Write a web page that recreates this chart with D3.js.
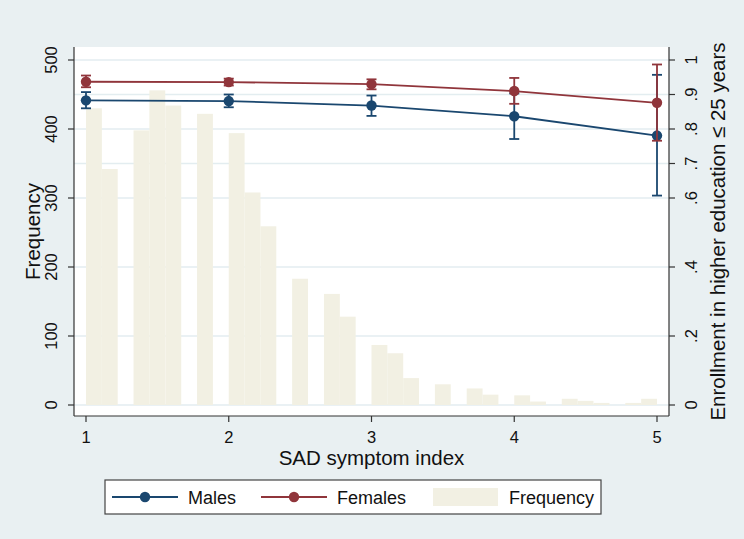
<!DOCTYPE html>
<html>
<head>
<meta charset="utf-8">
<script src="https://cdn.jsdelivr.net/npm/d3@7"></script>
<style>
  html, body { margin: 0; padding: 0; background: #e9f0f2; }
  svg { display: block; font-family: "Liberation Sans", Arial, sans-serif; }
</style>
</head>
<body>
<svg id="chart" width="744" height="539"></svg>
<script>
// ---- data ----
const sadPoints = [1, 2, 3, 4, 5];
const malesMean = [0.883, 0.881, 0.868, 0.837, 0.781];
const malesLow  = [0.860, 0.863, 0.838, 0.771, 0.607];
const malesHigh = [0.907, 0.900, 0.897, 0.903, 0.957];
const femalesMean = [0.937, 0.936, 0.930, 0.910, 0.876];
const femalesLow  = [0.921, 0.926, 0.915, 0.873, 0.766];
const femalesHigh = [0.955, 0.946, 0.944, 0.948, 0.987];

// histogram bins (left edge, bin width 1/9) and frequencies
const binStart = [1.000, 1.111, 1.333, 1.444, 1.556, 1.778, 2.000, 2.111, 2.222, 2.444,
                  2.667, 2.778, 3.000, 3.111, 3.222, 3.444, 3.667, 3.778, 4.000, 4.111,
                  4.333, 4.444, 4.556, 4.778, 4.889];
const binFreq  = [430, 342, 398, 456, 434, 422, 394, 308, 259, 183,
                  161, 128, 87, 75, 39, 30, 24, 15, 14, 5,
                  9, 6, 3, 3, 9];
const binWidth = 1 / 9;

const xTicks = [1, 2, 3, 4, 5];
const leftTicks = [0, 100, 200, 300, 400, 500];
const rightTicks = [0, 0.2, 0.4, 0.6, 0.7, 0.8, 0.9, 1];
const rightTickLabels = ["0", ".2", ".4", ".6", ".7", ".8", ".9", "1"];

const legendLabels = ["Males", "Females", "Frequency"];

// ---- styles ----
const maleColor = "#1a476f";
const femaleColor = "#90353b";
const histColor = "#f2f0e3";
const gridColor = "#e3edf0";
const axisColor = "#333333";
const textColor = "#111111";

const svg = d3.select("#chart");
const W = 744, H = 539;
svg.append("rect").attr("width", W).attr("height", H).attr("fill", "#e9f0f2");

const plot = { left: 74, right: 669, top: 47, bottom: 416 };

const x = d3.scaleLinear().domain([1, 5]).range([86, 657]);
const yL = d3.scaleLinear().domain([0, 500]).range([405, 60]);
const yR = d3.scaleLinear().domain([0, 1]).range([405, 60]);

// plot region
svg.append("rect")
  .attr("x", plot.left).attr("y", plot.top)
  .attr("width", plot.right - plot.left).attr("height", plot.bottom - plot.top)
  .attr("fill", "#ffffff");

// gridlines (from right axis ticks)
svg.append("g").selectAll("line").data(rightTicks).join("line")
  .attr("x1", plot.left).attr("x2", plot.right)
  .attr("y1", d => yR(d)).attr("y2", d => yR(d))
  .attr("stroke", gridColor).attr("stroke-width", 1.3);

// histogram
svg.append("g").selectAll("rect").data(binStart).join("rect")
  .attr("x", d => x(d))
  .attr("width", d => x(d + binWidth) - x(d))
  .attr("y", (d, i) => yL(binFreq[i]))
  .attr("height", (d, i) => yL(0) - yL(binFreq[i]))
  .attr("fill", histColor);

// series
function drawSeries(mean, low, high, color) {
  const g = svg.append("g");
  const line = d3.line().x((d, i) => x(sadPoints[i])).y(d => yR(d));
  g.append("path").datum(mean).attr("d", line)
    .attr("fill", "none").attr("stroke", color).attr("stroke-width", 1.8);
  const cap = 5;
  sadPoints.forEach((p, i) => {
    const cx = x(p);
    g.append("line").attr("x1", cx).attr("x2", cx)
      .attr("y1", yR(low[i])).attr("y2", yR(high[i]))
      .attr("stroke", color).attr("stroke-width", 1.8);
    [low[i], high[i]].forEach(v => {
      g.append("line").attr("x1", cx - cap).attr("x2", cx + cap)
        .attr("y1", yR(v)).attr("y2", yR(v))
        .attr("stroke", color).attr("stroke-width", 1.8);
    });
  });
  g.selectAll("circle").data(mean).join("circle")
    .attr("cx", (d, i) => x(sadPoints[i])).attr("cy", d => yR(d))
    .attr("r", 5.2).attr("fill", color);
}
drawSeries(malesMean, malesLow, malesHigh, maleColor);
drawSeries(femalesMean, femalesLow, femalesHigh, femaleColor);

// axes lines
const axes = svg.append("g").attr("stroke", axisColor).attr("stroke-width", 1.2);
axes.append("line").attr("x1", plot.left).attr("x2", plot.left).attr("y1", plot.top).attr("y2", plot.bottom);
axes.append("line").attr("x1", plot.right).attr("x2", plot.right).attr("y1", plot.top).attr("y2", plot.bottom);
axes.append("line").attr("x1", plot.left).attr("x2", plot.right).attr("y1", plot.bottom).attr("y2", plot.bottom);

// left ticks
const tl = 6;
axes.selectAll(".lt").data(leftTicks).join("line").attr("class", "lt")
  .attr("x1", plot.left - tl).attr("x2", plot.left)
  .attr("y1", d => yL(d)).attr("y2", d => yL(d));
svg.append("g").selectAll("text").data(leftTicks).join("text")
  .attr("transform", d => `translate(57,${yL(d)}) rotate(-90)`)
  .attr("text-anchor", "middle").attr("font-size", 16.5).attr("fill", textColor)
  .text(d => d);

// right ticks
axes.selectAll(".rt").data(rightTicks).join("line").attr("class", "rt")
  .attr("x1", plot.right).attr("x2", plot.right + tl)
  .attr("y1", d => yR(d)).attr("y2", d => yR(d));
svg.append("g").selectAll("text").data(rightTicks).join("text")
  .attr("transform", d => `translate(697,${yR(d)}) rotate(-90)`)
  .attr("text-anchor", "middle").attr("font-size", 16.5).attr("fill", textColor)
  .text((d, i) => rightTickLabels[i]);

// x ticks
axes.selectAll(".xt").data(xTicks).join("line").attr("class", "xt")
  .attr("x1", d => x(d)).attr("x2", d => x(d))
  .attr("y1", plot.bottom).attr("y2", plot.bottom + tl);
svg.append("g").selectAll("text").data(xTicks).join("text")
  .attr("x", d => x(d)).attr("y", 443)
  .attr("text-anchor", "middle").attr("font-size", 16.5).attr("fill", textColor)
  .text(d => d);

// titles
const midY = (plot.top + plot.bottom) / 2;
svg.append("text").attr("transform", `translate(40,${midY}) rotate(-90)`)
  .attr("text-anchor", "middle").attr("font-size", 20.5).attr("fill", textColor)
  .text("Frequency");
svg.append("text").attr("transform", `translate(725,${midY}) rotate(-90)`)
  .attr("text-anchor", "middle").attr("font-size", 20.5).attr("fill", textColor)
  .text("Enrollment in higher education \u2264 25 years");
svg.append("text").attr("x", (plot.left + plot.right) / 2).attr("y", 465)
  .attr("text-anchor", "middle").attr("font-size", 20.5).attr("fill", textColor)
  .text("SAD symptom index");

// legend
const lg = svg.append("g");
lg.append("rect").attr("x", 105).attr("y", 480).attr("width", 496).attr("height", 34)
  .attr("fill", "#ffffff").attr("stroke", "#444").attr("stroke-width", 1.2);
const ly = 497;
const legendItems = [
  { label: legendLabels[0], color: maleColor, x0: 112, type: "line" },
  { label: legendLabels[1], color: femaleColor, x0: 261, type: "line" },
  { label: legendLabels[2], color: histColor, x0: 433, type: "bar" }
];
legendItems.forEach(it => {
  if (it.type === "line") {
    lg.append("line").attr("x1", it.x0).attr("x2", it.x0 + 66).attr("y1", ly).attr("y2", ly)
      .attr("stroke", it.color).attr("stroke-width", 1.8);
    lg.append("circle").attr("cx", it.x0 + 33).attr("cy", ly).attr("r", 5.2).attr("fill", it.color);
    lg.append("text").attr("x", it.x0 + 76).attr("y", ly + 6.5)
      .attr("font-size", 18).attr("fill", textColor).text(it.label);
  } else {
    lg.append("rect").attr("x", it.x0).attr("y", 488).attr("width", 65).attr("height", 18)
      .attr("fill", it.color);
    lg.append("text").attr("x", it.x0 + 76).attr("y", ly + 6.5)
      .attr("font-size", 18).attr("fill", textColor).text(it.label);
  }
});
</script>
</body>
</html>
